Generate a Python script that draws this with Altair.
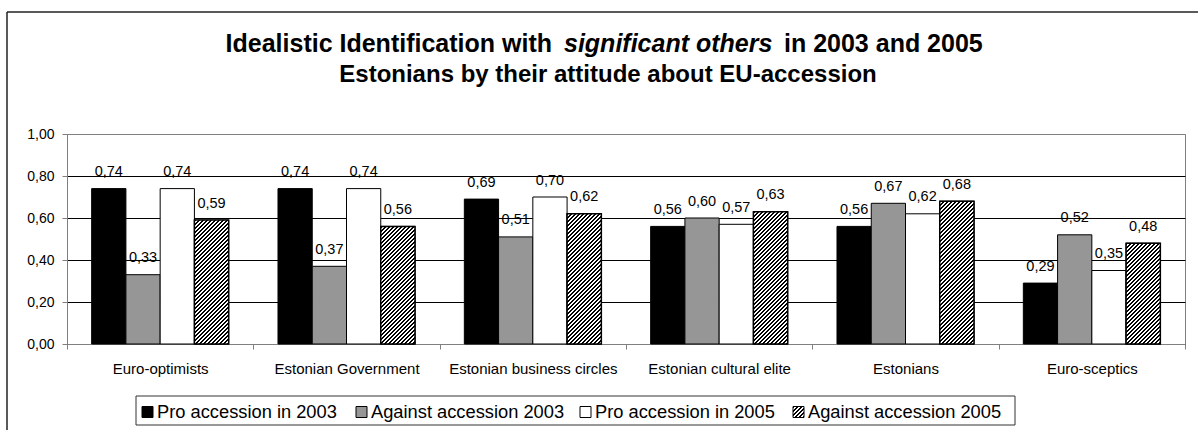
import math
import altair as alt
import pandas as pd

# ---- data -------------------------------------------------------------
categories = [
    "Euro-optimists",
    "Estonian Government",
    "Estonian business circles",
    "Estonian cultural elite",
    "Estonians",
    "Euro-sceptics",
]
series = [
    "Pro accession in 2003",
    "Against accession 2003",
    "Pro accession in 2005",
    "Against accession 2005",
]
pro_2003 = [0.74, 0.74, 0.69, 0.56, 0.56, 0.29]
against_2003 = [0.33, 0.37, 0.51, 0.60, 0.67, 0.52]
pro_2005 = [0.74, 0.74, 0.70, 0.57, 0.62, 0.35]
against_2005 = [0.59, 0.56, 0.62, 0.63, 0.68, 0.48]
y_ticks = [0.0, 0.2, 0.4, 0.6, 0.8, 1.0]

title_line1 = ["Idealistic Identification with", "significant others", "in 2003 and 2005"]
title_line2 = "Estonians by their attitude about EU-accession"

# ---- layout / style ---------------------------------------------------
FONT = "Liberation Sans"
PLOT_W, PLOT_H = 1118, 210
PAD = {"left": 67, "top": 134, "right": 13, "bottom": 86}
OFFSET_PAD = 0.72
GRID_GRAY = "#808080"
fills = ["#000000", "#969696", "#ffffff", "#ffffff"]
HATCH_PERIOD = 4.0

rows = []
for s, vals in zip(series, [pro_2003, against_2003, pro_2005, against_2005]):
    for c, v in zip(categories, vals):
        rows.append({"category": c, "series": s, "value": v})
df = pd.DataFrame(rows)

bar_w = PLOT_W / len(categories) / (len(series) + 2 * OFFSET_PAD)


def hatch_fill(w, h, period=HATCH_PERIOD, duty=0.5):
    """Upward diagonal hatch as a hard-stop linear gradient over a w x h box."""
    s = w + h
    c = w * s / (w * w + h * h)
    stops = []
    n = int(math.ceil(s / period))
    for k in range(n):
        a = round(k * period / s, 5)
        m = round(min((k + duty) * period / s, 1.0), 5)
        b = round(min((k + 1) * period / s, 1.0), 5)
        stops += [
            alt.GradientStop(color="black", offset=a),
            alt.GradientStop(color="black", offset=m),
            alt.GradientStop(color="white", offset=m),
            alt.GradientStop(color="white", offset=b),
        ]
    return alt.LinearGradient(gradient="linear", stops=stops, x1=0, y1=0, x2=c, y2=c * h / w)


x_enc = alt.X(
    "category:N",
    sort=categories,
    scale=alt.Scale(paddingInner=0, paddingOuter=0),
    axis=alt.Axis(
        title=None,
        labelAngle=0,
        labelFontSize=15,
        labelColor="black",
        tickBand="extent",
        tickSize=5,
        tickColor=GRID_GRAY,
        domainColor=GRID_GRAY,
        labelPadding=24,
        labelBaseline="alphabetic",
        grid=False,
    ),
)
xo_enc = alt.XOffset(
    "series:N", sort=series, scale=alt.Scale(paddingInner=0, paddingOuter=OFFSET_PAD)
)
y_enc = alt.Y(
    "value:Q",
    scale=alt.Scale(domain=[0, 1], nice=False),
    axis=alt.Axis(
        title=None,
        values=y_ticks,
        labelExpr="replace(format(datum.value, '.2f'), '.', ',')",
        labelFontSize=14,
        labelColor="black",
        tickSize=5,
        tickColor=GRID_GRAY,
        domainColor=GRID_GRAY,
        labelPadding=8,
        grid=True,
        gridColor=alt.condition("datum.value >= 1", alt.value(GRID_GRAY), alt.value("black")),
        gridWidth=1,
    ),
)

base = alt.Chart(df)

bars = base.mark_bar(stroke="black", strokeWidth=1).encode(
    x=x_enc,
    xOffset=xo_enc,
    y=y_enc,
    fill=alt.Fill("series:N", scale=alt.Scale(domain=series, range=fills), legend=None),
)

layers = [bars]

# hatched bars for the last series, one gradient per bar height
for c, v in zip(categories, against_2005):
    layers.append(
        base.transform_filter(
            (alt.datum.series == series[3]) & (alt.datum.category == c)
        )
        .mark_bar(fill=hatch_fill(bar_w, v * PLOT_H), stroke="black", strokeWidth=1.5)
        .encode(x=x_enc, xOffset=xo_enc, y=y_enc)
    )

labels = (
    base.transform_calculate(label="replace(format(datum.value, '.2f'), '.', ',')")
    .mark_text(baseline="alphabetic", dy=-12.5, fontSize=14.5, font=FONT, color="black")
    .encode(x=x_enc, xOffset=xo_enc, y=y_enc, text="label:N")
)
layers.append(labels)

one = pd.DataFrame({"k": [0]})
anchor = alt.Chart(one)

# title (two lines, the middle phrase italic)
T1_Y, T2_Y = -82, -52
T1_SIZE = 25
layers += [
    anchor.mark_text(text=title_line1[0], font=FONT, fontSize=T1_SIZE, fontWeight="bold",
                     align="right", baseline="alphabetic")
    .encode(x=alt.value(485), y=alt.value(T1_Y)),
    anchor.mark_text(text=title_line1[1], font=FONT, fontSize=T1_SIZE, fontWeight="bold",
                     fontStyle="italic", align="left", baseline="alphabetic")
    .encode(x=alt.value(497), y=alt.value(T1_Y)),
    anchor.mark_text(text=title_line1[2], font=FONT, fontSize=T1_SIZE, fontWeight="bold",
                     align="left", baseline="alphabetic")
    .encode(x=alt.value(717), y=alt.value(T1_Y)),
    anchor.mark_text(text=title_line2, font=FONT, fontSize=24, fontWeight="bold",
                     align="center", baseline="alphabetic")
    .encode(x=alt.value(541), y=alt.value(T2_Y)),
]

# outer frame (left and top edges)
layers += [
    anchor.mark_rule(color="#222222", strokeWidth=1.5)
    .encode(x=alt.value(-60), y=alt.value(-122), y2=alt.value(300)),
    anchor.mark_rule(color="#222222", strokeWidth=1.5)
    .encode(x=alt.value(-60), x2=alt.value(1135), y=alt.value(-122)),
]

# legend box and entries
layers.append(
    anchor.mark_rect(fill="white", stroke="#333333", strokeWidth=1)
    .encode(x=alt.value(69), x2=alt.value(948), y=alt.value(262), y2=alt.value(291))
)
legend_x = [75, 289, 513, 726]
SW = 11
for i, (s, lx) in enumerate(zip(series, legend_x)):
    sw_fill = hatch_fill(SW, SW) if i == 3 else fills[i]
    layers.append(
        anchor.mark_rect(fill=sw_fill, stroke="black", strokeWidth=1)
        .encode(x=alt.value(lx), x2=alt.value(lx + SW), y=alt.value(272.5), y2=alt.value(283.5))
    )
    layers.append(
        anchor.mark_text(text=s, font=FONT, fontSize=18.3, align="left", baseline="alphabetic")
        .encode(x=alt.value(lx + 15), y=alt.value(283.5))
    )

chart = (
    alt.layer(*layers)
    .properties(
        width=PLOT_W,
        height=PLOT_H,
        padding=PAD,
        autosize=alt.AutoSizeParams(type="none"),
        background="white",
    )
    .configure_view(stroke=GRID_GRAY, strokeWidth=1)
    .configure_axis(labelFont=FONT)
    .configure_text(font=FONT)
)

chart.save("out.html", embed_options={"renderer": "svg", "actions": False})
